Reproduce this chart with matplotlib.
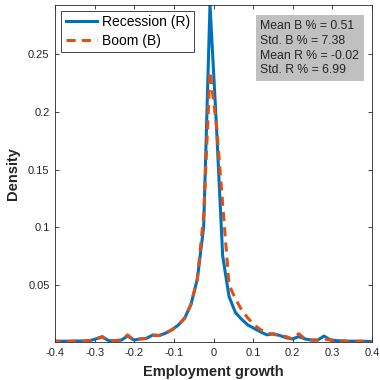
import numpy as np
import matplotlib
matplotlib.use("Agg")
from matplotlib import pyplot as plt

plt.rcParams['font.family'] = ['Liberation Sans', 'DejaVu Sans']

# evaluation grid of the kernel density
growth = [-0.409, -0.393, -0.377, -0.361, -0.345, -0.329, -0.313, -0.297, -0.281, -0.265,
          -0.249, -0.233, -0.217, -0.201, -0.185, -0.169, -0.153, -0.137, -0.121, -0.105,
          -0.089, -0.073, -0.057, -0.041, -0.025, -0.009, 0.007, 0.023, 0.039, 0.055,
          0.071, 0.087, 0.103, 0.119, 0.135, 0.151, 0.167, 0.183, 0.199, 0.215,
          0.231, 0.247, 0.263, 0.279, 0.295, 0.311, 0.327, 0.343, 0.359, 0.375,
          0.391, 0.407]

recession = [0.001, 0.001, 0.001, 0.001, 0.0012, 0.0012, 0.0015, 0.003, 0.005, 0.0015,
             0.0015, 0.002, 0.0055, 0.002, 0.003, 0.0035, 0.0065, 0.006, 0.008, 0.011,
             0.015, 0.021, 0.033, 0.055, 0.10, 0.293, 0.19, 0.075, 0.040, 0.026,
             0.020, 0.015, 0.012, 0.009, 0.0065, 0.0075, 0.006, 0.004, 0.003, 0.005,
             0.003, 0.002, 0.002, 0.0055, 0.002, 0.0015, 0.0012, 0.001, 0.001, 0.001,
             0.0008, 0.0008]

boom = [0.001, 0.001, 0.001, 0.001, 0.0012, 0.0012, 0.0015, 0.003, 0.0045, 0.0015,
        0.0015, 0.002, 0.0065, 0.002, 0.003, 0.0035, 0.006, 0.006, 0.008, 0.011,
        0.015, 0.021, 0.033, 0.055, 0.11, 0.235, 0.19, 0.12, 0.050, 0.038,
        0.028, 0.021, 0.015, 0.011, 0.008, 0.007, 0.006, 0.005, 0.003, 0.0075,
        0.003, 0.002, 0.002, 0.003, 0.002, 0.0015, 0.0012, 0.001, 0.001, 0.001,
        0.0008, 0.0008]

stats_text = ["Mean B % = 0.51", "Std. B % = 7.38", "Mean R % = -0.02", "Std. R % = 6.99"]

fig = plt.figure(figsize=(3.8, 3.8), dpi=100)
ax = fig.add_axes([0.145, 0.099, 0.834, 0.888])

ax.plot(growth, recession, color='#0072BD', lw=2.2, label='Recession (R)')
ax.plot(growth, boom, color='#D95319', lw=2.2, ls=(0, (3.0, 2.0)), label='Boom (B)')

ax.set_xlim(-0.4, 0.4)
ax.set_ylim(0, max(recession))
ax.set_xticks(np.round(np.arange(-0.4, 0.41, 0.1), 1))
ax.set_xticklabels(['-0.4', '-0.3', '-0.2', '-0.1', '0', '0.1', '0.2', '0.3', '0.4'])
ax.set_yticks([0.05, 0.1, 0.15, 0.2, 0.25])
ax.set_yticklabels(['0.05', '0.1', '0.15', '0.2', '0.25'])
ax.tick_params(direction='in', top=True, right=True, length=3, width=0.6,
               labelsize=8, colors='#262626', pad=4)
for s in ax.spines.values():
    s.set_color('#262626')
    s.set_linewidth(0.6)

ax.set_xlabel('Employment growth', fontsize=10.5, fontweight='bold', color='#262626', labelpad=5)
ax.set_ylabel('Density', fontsize=10.5, fontweight='bold', color='#262626', labelpad=6)

leg = ax.legend(loc='upper left', fontsize=10, handlelength=2.3, borderpad=0.3,
                labelspacing=0.3, handletextpad=0.3, fancybox=False, framealpha=1,
                borderaxespad=0.45)
leg.get_frame().set_edgecolor('#262626')
leg.get_frame().set_linewidth(0.6)

ax.text(0.648, 0.955, "\n".join(stats_text), transform=ax.transAxes, fontsize=8.8,
        va='top', ha='left', color='#262626', linespacing=1.3,
        bbox=dict(facecolor='#c0c0c0', edgecolor='none', pad=3.5))

fig.savefig('out.png', dpi=100)
